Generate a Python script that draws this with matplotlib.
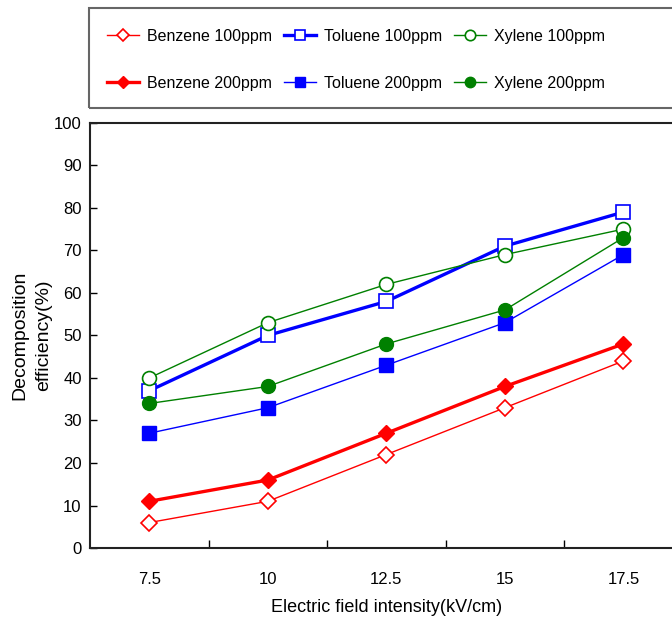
import matplotlib.pyplot as plt
import numpy as np
from matplotlib.patches import Rectangle

plt.rcParams['font.family'] = ['Liberation Sans', 'DejaVu Sans']

# electric field intensity (kV/cm)
field = ['7.5', '10', '12.5', '15', '17.5']

benzene_100 = [6, 11, 22, 33, 44]
benzene_200 = [11, 16, 27, 38, 48]
toluene_100 = [37, 50, 58, 71, 79]
toluene_200 = [27, 33, 43, 53, 69]
xylene_100 = [40, 53, 62, 69, 75]
xylene_200 = [34, 38, 48, 56, 73]

fig = plt.figure(figsize=(6.72, 6.2), dpi=100)
ax = fig.add_axes([0.134, 0.116, 0.882, 0.686])

x = np.arange(len(field))

# order so the 3-column legend reads row-wise
ax.plot(x, benzene_100, color='red', lw=1.0, marker='D', ms=8, mfc='white', mec='red', mew=1.2, label='Benzene 100ppm')
ax.plot(x, benzene_200, color='red', lw=2.4, marker='D', ms=8, mfc='red', mec='red', label='Benzene 200ppm')
ax.plot(x, toluene_100, color='blue', lw=2.4, marker='s', ms=10, mfc='white', mec='blue', mew=1.2, label='Toluene 100ppm')
ax.plot(x, toluene_200, color='blue', lw=1.0, marker='s', ms=10, mfc='blue', mec='blue', label='Toluene 200ppm')
ax.plot(x, xylene_100, color='green', lw=1.0, marker='o', ms=10, mfc='white', mec='green', mew=1.2, label='Xylene 100ppm')
ax.plot(x, xylene_200, color='green', lw=1.0, marker='o', ms=10, mfc='green', mec='green', label='Xylene 200ppm')

ax.set_xlim(-0.5, 4.5)
ax.set_ylim(0, 100)
ax.set_yticks(range(0, 101, 10))
ax.set_xticks(x)
ax.set_xticklabels(field)
ax.set_xticks(x[:-1] + 0.5, minor=True)
ax.tick_params(axis='x', which='major', length=0, pad=17, labelsize=12)
ax.tick_params(axis='x', which='minor', direction='in', length=6, width=1)
ax.tick_params(axis='y', direction='in', length=5, width=1, labelsize=12, pad=6)

for s in ['left', 'bottom', 'top']:
    ax.spines[s].set_linewidth(1.5)
    ax.spines[s].set_color('#222222')
ax.spines['right'].set_visible(False)

ax.set_xlabel('Electric field intensity(kV/cm)', fontsize=13, labelpad=9)
ax.set_ylabel('Decomposition\nefficiency(%)', fontsize=14, labelpad=1, linespacing=1.55)

# legend box runs past the right edge like the original
fig.patches.append(Rectangle((89 / 672, 1 - 108 / 620), 0.95, 100 / 620, transform=fig.transFigure,
                             fill=False, edgecolor='#666666', lw=1.5))

h, l = ax.get_legend_handles_labels()
fig.legend(h, l, ncol=3, loc='upper left', bbox_to_anchor=(107 / 672, 1 - 29 / 620),
           fontsize=11.5, frameon=False, handlelength=2.0, handletextpad=0.5,
           columnspacing=0.75, labelspacing=2.0, borderpad=0, borderaxespad=0,
           markerscale=0.75)

fig.savefig('out.png', dpi=100)
